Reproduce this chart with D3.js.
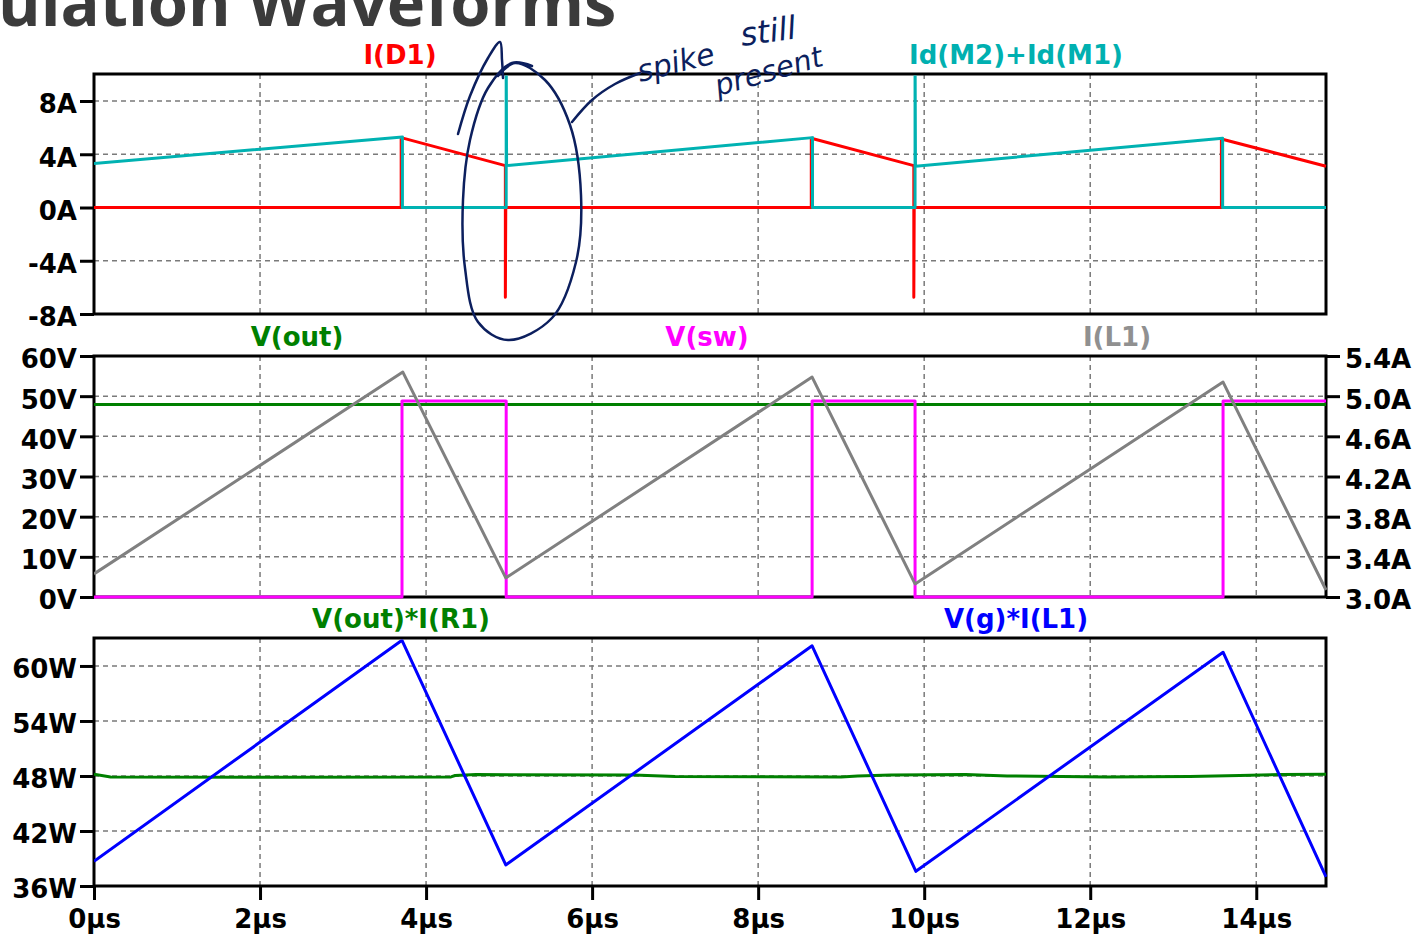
<!DOCTYPE html>
<html>
<head>
<meta charset="utf-8">
<script src="https://cdn.jsdelivr.net/npm/d3@7"></script>
<style>
body{margin:0;background:#fff;overflow:hidden}
text{font-family:"DejaVu Sans",sans-serif;font-weight:bold}
</style>
</head>
<body>
<div class="c_chart"></div>
<script>
/*DATA
------------------------------------------------------
*/
const timeTicks = [0,2,4,6,8,10,12,14];
const tMax = 14.84;

const iTicks = [-8,-4,0,4,8];
const vTicks = [0,10,20,30,40,50,60];
const aTicks = [3.0,3.4,3.8,4.2,4.6,5.0,5.4];
const wTicks = [36,42,48,54,60];

// panel 1 : I(D1) and Id(M2)+Id(M1)   [µs, A]
const iD1 = [[0,0],[3.70,0],[3.70,5.25],[4.955,3.15],[4.955,-6.75],[4.96,0],[8.64,0],[8.64,5.2],[9.875,3.15],[9.875,-6.75],[9.88,0],[13.58,0],[13.58,5.15],[14.84,3.1]];
const idM = [[0,3.3],[3.715,5.3],[3.715,0],[4.965,0],[4.965,12],[4.97,3.15],[8.655,5.25],[8.655,0],[9.89,0],[9.89,12],[9.895,3.1],[13.595,5.2],[13.595,0],[14.84,0]];

// panel 2 : V(out), V(sw) [V] and I(L1) [A]
const vOut = [[0,47.9],[14.84,47.9]];
const vSw = [[0,0],[3.71,0],[3.71,48.8],[4.965,48.8],[4.965,0],[8.65,0],[8.65,48.8],[9.89,48.8],[9.89,0],[13.6,0],[13.6,48.8],[14.84,48.8]];
const iL1 = [[0,3.23],[3.72,5.24],[4.96,3.19],[8.65,5.19],[9.89,3.13],[13.6,5.14],[14.84,3.07]];

// panel 3 : V(out)*I(R1) and V(g)*I(L1)   [W]
const pOut = [[0,48.2],[0.2,47.9],[2.0,47.85],[4.3,47.9],[4.35,48.05],[4.6,48.15],[6.5,48.1],[7.0,47.95],[9.0,47.9],[9.2,48.0],[9.6,48.1],[10.5,48.15],[11.0,48.0],[12.2,47.9],[13.2,47.95],[13.8,48.05],[14.3,48.15],[14.84,48.2]];
const pIn = [[0,38.7],[3.71,62.8],[4.96,38.3],[8.65,62.2],[9.9,37.6],[13.6,61.5],[14.84,37.0]];

/*SVG
------------------------------------------------------
*/
const width = 1414, height = 937;
const left = 94, right = 1326;

let svg = d3.select(".c_chart").append("svg")
	.attr("width", width)
	.attr("height", height);

let x = d3.scaleLinear().domain([0, tMax]).range([left, right]);

// title, cut at the top of the screenshot
svg.append("text")
	.attr("x", -2).attr("y", 26)
	.style("font-family", "'Open Sans',sans-serif")
	.style("font-weight", 700)
	.style("font-size", "65px")
	.attr("fill", "#3b3b3b")
	.text("ulation Waveforms");

const panels = [
	{top:74, bottom:314, domain:[-8,10.03], ticks:iTicks, fmt:d => d + "A",
		series:[[iD1,"#ff0000"],[idM,"#00b2b2"]],
		labels:[["I(D1)",400,"#ff0000"],["Id(M2)+Id(M1)",1016,"#00b0b0"]]},
	{top:356, bottom:597, domain:[0,60], ticks:vTicks, fmt:d => d + "V",
		series:[[vOut,"#008000"],[vSw,"#ff00ff"]],
		right:{domain:[3.0,5.4], ticks:aTicks, fmt:d => d3.format(".1f")(d) + "A", series:[[iL1,"#808080"]]},
		labels:[["V(out)",297,"#008000"],["V(sw)",707,"#ff00ff"],["I(L1)",1117,"#909090"]]},
	{top:638, bottom:886, domain:[36,63.05], ticks:wTicks, fmt:d => d + "W",
		series:[[pOut,"#008000"],[pIn,"#0000ff"]],
		labels:[["V(out)*I(R1)",401,"#008000"],["V(g)*I(L1)",1016,"#0000ff"]],
		bottomAxis:true}
];

function styleAxis(g){
	g.select(".domain").remove();
	g.selectAll(".tick line").attr("stroke","#000").attr("stroke-width",3);
	g.selectAll(".tick text")
		.attr("fill","#000")
		.style("font-family","'DejaVu Sans',sans-serif")
		.style("font-weight","bold")
		.style("font-size","26px");
}

panels.forEach(function(p, i){
	let y = d3.scaleLinear().domain(p.domain).range([p.bottom, p.top]);
	let g = svg.append("g");

	// traces may cover the bottom frame line, not the top one
	g.append("clipPath").attr("id","clip" + i)
		.append("rect")
		.attr("x", left).attr("y", p.top + 1.5)
		.attr("width", right - left + 1.5).attr("height", p.bottom - p.top + 0.5);

	/*GRID*/
	g.selectAll(".vgrid")
		.data(timeTicks.filter(d => d > 0))
		.enter().append("line")
		.attr("x1", d => x(d)).attr("x2", d => x(d))
		.attr("y1", p.top).attr("y2", p.bottom)
		.attr("stroke","#7a7a7a").attr("stroke-width",1.5).attr("stroke-dasharray","5,4");
	g.selectAll(".hgrid")
		.data(p.ticks.filter(d => y(d) > p.top + 2 && y(d) < p.bottom - 2))
		.enter().append("line")
		.attr("x1", left).attr("x2", right)
		.attr("y1", d => y(d)).attr("y2", d => y(d))
		.attr("stroke","#7a7a7a").attr("stroke-width",1.5).attr("stroke-dasharray","5,4");

	/*FRAME*/
	g.append("rect")
		.attr("x", left).attr("y", p.top)
		.attr("width", right - left).attr("height", p.bottom - p.top)
		.attr("fill","none").attr("stroke","#000").attr("stroke-width",3);

	/*TRACES*/
	let traces = g.append("g").attr("clip-path","url(#clip" + i + ")");
	let line = d3.line().x(d => x(d[0])).y(d => y(d[1]));
	p.series.forEach(function(s){
		traces.append("path").datum(s[0])
			.attr("d", line)
			.attr("fill","none").attr("stroke", s[1])
			.attr("stroke-width",3).attr("stroke-linejoin","round");
	});

	let yR;
	if (p.right) {
		yR = d3.scaleLinear().domain(p.right.domain).range([p.bottom, p.top]);
		let lineR = d3.line().x(d => x(d[0])).y(d => yR(d[1]));
		p.right.series.forEach(function(s){
			traces.append("path").datum(s[0])
				.attr("d", lineR)
				.attr("fill","none").attr("stroke", s[1])
				.attr("stroke-width",3).attr("stroke-linejoin","round");
		});
	}

	/*AXES*/
	g.append("g")
		.attr("transform","translate(" + left + ",0)")
		.call(d3.axisLeft(y).tickValues(p.ticks).tickFormat(p.fmt).tickSize(14).tickPadding(3))
		.call(styleAxis)
		.selectAll(".tick text").attr("dy","0.46em");

	if (p.right) {
		g.append("g")
			.attr("transform","translate(" + right + ",0)")
			.call(d3.axisRight(yR).tickValues(p.right.ticks).tickFormat(p.right.fmt).tickSize(14).tickPadding(5))
			.call(styleAxis)
			.selectAll(".tick text").attr("dy","0.46em");
	}

	if (p.bottomAxis) {
		g.append("g")
			.attr("transform","translate(0," + p.bottom + ")")
			.call(d3.axisBottom(x).tickValues(timeTicks).tickFormat(d => d + "µs").tickSize(14).tickPadding(10))
			.call(styleAxis);
	}

	/*LABELS*/
	g.selectAll(".lbl")
		.data(p.labels)
		.enter().append("text")
		.attr("x", d => d[1]).attr("y", p.top - 10)
		.attr("text-anchor","middle")
		.attr("fill", d => d[2])
		.style("font-size","26px")
		.text(d => d[0]);
});

/*HANDWRITTEN NOTE
------------------------------------------------------
*/
const ink = "#0c1f5e";
const loopPts = [[498,76],[515,63],[545,80],[570,125],[581,195],[576,262],[552,318],[508,340],[478,322],[465,268],[463,200],[470,140],[488,88],[512,63],[532,66]];
const hookPts = [[458,134],[470,96],[488,58],[500,42],[502,60],[503,78]];
const linkPts = [[572,122],[592,100],[615,84],[640,73]];

let pen = d3.line().curve(d3.curveCatmullRom);
[loopPts, hookPts, linkPts].forEach(function(pts){
	svg.append("path").datum(pts)
		.attr("d", pen)
		.attr("fill","none").attr("stroke", ink)
		.attr("stroke-width",2.5).attr("stroke-linecap","round");
});

const noteWords = [["spike",640,82,-14,30],["still",742,46,-8,32],["present",718,96,-16,29]];
svg.selectAll(".note")
	.data(noteWords)
	.enter().append("text")
	.attr("transform", d => "translate(" + d[1] + "," + d[2] + ") rotate(" + d[3] + ")")
	.style("font-family","'DejaVu Sans',sans-serif")
	.style("font-weight","normal")
	.style("font-style","italic")
	.style("font-size", d => d[4] + "px")
	.attr("fill", ink)
	.text(d => d[0]);
</script>
</body>
</html>
